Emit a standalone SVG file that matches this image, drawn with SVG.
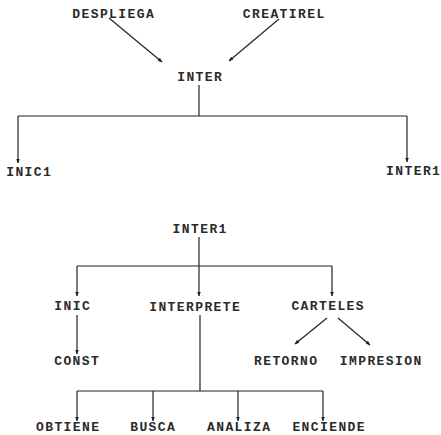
<svg xmlns="http://www.w3.org/2000/svg" width="441" height="435" viewBox="0 0 441 435">
  <style>
    .lbl { font-family: "Liberation Mono", "DejaVu Sans Mono", monospace; font-weight: bold; font-size: 13px; letter-spacing: 1.4px; fill: #2a2a2a; text-anchor: middle; }
    .ln { stroke: #222; stroke-width: 1.2; fill: none; }
    .arr { stroke: #222; stroke-width: 1.2; fill: none; marker-end: url(#head); }
  </style>
  <defs>
    <marker id="head" viewBox="0 0 10 10" refX="9" refY="5" markerWidth="4" markerHeight="4" orient="auto" markerUnits="strokeWidth">
      <path d="M0,1 L10,5 L0,9 Z" fill="#222"/>
    </marker>
  </defs>
  <rect width="441" height="435" fill="#ffffff"/>

  <!-- connectors -->
  <g id="connectors">
    <!-- upper tree -->
    <line class="arr" x1="109" y1="18" x2="162" y2="62"/>
    <line class="arr" x1="279" y1="19" x2="229" y2="61"/>
    <line class="ln" x1="199" y1="85" x2="199" y2="116"/>
    <line class="ln" x1="18" y1="116" x2="407" y2="116"/>
    <line class="arr" x1="18" y1="116" x2="18" y2="163"/>
    <line class="arr" x1="407" y1="116" x2="407" y2="162"/>
    <!-- lower tree -->
    <line class="ln" x1="199" y1="237" x2="199" y2="266"/>
    <line class="ln" x1="77" y1="266" x2="332" y2="266"/>
    <line class="arr" x1="77" y1="266" x2="77" y2="296"/>
    <line class="arr" x1="199" y1="266" x2="199" y2="296"/>
    <line class="arr" x1="332" y1="266" x2="332" y2="296"/>
    <line class="arr" x1="77" y1="315" x2="77" y2="354"/>
    <line class="arr" x1="327" y1="318" x2="295" y2="344"/>
    <line class="arr" x1="338" y1="318" x2="370" y2="345"/>
    <line class="ln" x1="200" y1="315" x2="200" y2="391"/>
    <line class="ln" x1="77" y1="391" x2="323" y2="391"/>
    <line class="arr" x1="77" y1="391" x2="77" y2="421"/>
    <line class="arr" x1="153" y1="391" x2="153" y2="421"/>
    <line class="arr" x1="238" y1="391" x2="238" y2="421"/>
    <line class="arr" x1="323" y1="391" x2="323" y2="421"/>
  </g>

  <!-- nodes -->
  <g id="despliega"><text class="lbl" x="113.7" y="18">DESPLIEGA</text></g>
  <g id="creatirel"><text class="lbl" x="284.2" y="18">CREATIREL</text></g>
  <g id="inter"><text class="lbl" x="200.2" y="81">INTER</text></g>
  <g id="inic1"><text class="lbl" x="29.2" y="176">INIC1</text></g>
  <g id="inter1-leaf"><text class="lbl" x="413.7" y="175">INTER1</text></g>
  <g id="inter1"><text class="lbl" x="200.2" y="233">INTER1</text></g>
  <g id="inic"><text class="lbl" x="72.7" y="310">INIC</text></g>
  <g id="interprete"><text class="lbl" x="195.2" y="311">INTERPRETE</text></g>
  <g id="carteles"><text class="lbl" x="328.2" y="310">CARTELES</text></g>
  <g id="const"><text class="lbl" x="77.2" y="365">CONST</text></g>
  <g id="retorno"><text class="lbl" x="286.2" y="365">RETORNO</text></g>
  <g id="impresion"><text class="lbl" x="381.2" y="365">IMPRESION</text></g>
  <g id="obtiene"><text class="lbl" x="68.2" y="431">OBTIENE</text></g>
  <g id="busca"><text class="lbl" x="153.2" y="431">BUSCA</text></g>
  <g id="analiza"><text class="lbl" x="239.2" y="431">ANALIZA</text></g>
  <g id="enciende"><text class="lbl" x="329.2" y="431">ENCIENDE</text></g>
</svg>
